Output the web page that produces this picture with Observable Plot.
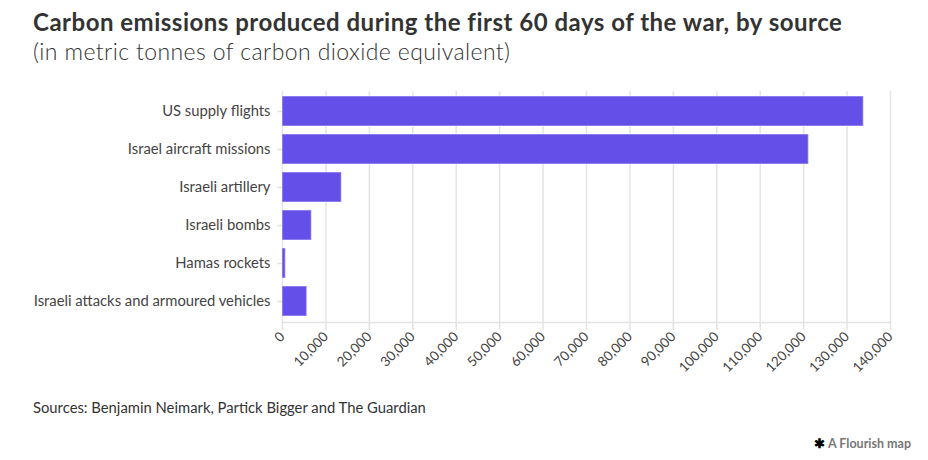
<!DOCTYPE html>
<html>
<head>
<meta charset="utf-8">
<script src="https://cdn.jsdelivr.net/npm/d3@7"></script>
<script src="https://cdn.jsdelivr.net/npm/@observablehq/plot@0.6"></script>
<style>
  html, body { margin: 0; padding: 0; background: #fff; }
  body { width: 928px; height: 460px; position: relative; overflow: hidden; font-family: Lato, "Noto Sans", sans-serif; }
  #title { position: absolute; left: 33px; top: 7px; font-size: 24px; font-weight: 700; color: #333; letter-spacing: 0.5px; white-space: nowrap; }
  #subtitle { position: absolute; left: 33px; top: 37px; font-size: 23px; font-weight: 300; color: #333; letter-spacing: 0.4px; white-space: nowrap; }
  #chart { position: absolute; left: 0; top: 80px; }
  #source { position: absolute; left: 33px; top: 398px; font-size: 14.8px; color: #333; white-space: nowrap; }
  #credit { position: absolute; right: 17px; top: 436px; font-size: 12.5px; font-weight: 700; color: #777; white-space: nowrap; }
  #credit span { color: #000; }
</style>
</head>
<body>
<div id="title">Carbon emissions produced during the first 60 days of the war, by source</div>
<div id="subtitle">(in metric tonnes of carbon dioxide equivalent)</div>
<div id="chart"></div>
<div id="source">Sources: Benjamin Neimark, Partick Bigger and The Guardian</div>
<div id="credit"><span>✱</span> A Flourish map</div>
<script>
const sources = ["US supply flights", "Israel aircraft missions", "Israeli artillery", "Israeli bombs", "Hamas rockets", "Israeli attacks and armoured vehicles"];
const emissions = [133850, 121200, 13650, 6750, 760, 5680];
const xTicks = [0, 10000, 20000, 30000, 40000, 50000, 60000, 70000, 80000, 90000, 100000, 110000, 120000, 130000, 140000];

const data = sources.map((s, i) => ({source: s, value: emissions[i]}));
const fmt = d3.format(",");

const plot = Plot.plot({
  width: 928,
  height: 310,
  marginTop: 11,
  marginBottom: 68,
  marginLeft: 282,
  marginRight: 38,
  style: {fontFamily: "Lato, 'Noto Sans', sans-serif", fontSize: "14px", color: "#333", background: "#fff"},
  x: {domain: [0, 140000], ticks: xTicks},
  y: {domain: sources, paddingInner: 0.2, paddingOuter: 0.1},
  marks: [
    Plot.gridX(xTicks, {stroke: "#e4e4e4", strokeOpacity: 1, strokeWidth: 1.5}),
    Plot.frame({anchor: "bottom", stroke: "#e4e4e4", strokeWidth: 1.5}),
    Plot.barX(data, {x: "value", y: "source", fill: "#6450e8", stroke: "#ffffff", strokeOpacity: 0.35, strokeWidth: 1.5, inset: 0}),
    Plot.axisX(xTicks, {tickSize: 8, stroke: "#e4e4e4", strokeWidth: 1.5, tickRotate: -45, tickFormat: fmt, fontSize: 13.5, fill: "#444", tickPadding: 4, label: null, textAnchor: "end"}),
    Plot.axisY({tickSize: 5, tickPadding: 7, stroke: "#e4e4e4", strokeWidth: 1.5, fill: "#444", fontSize: 14.8, label: null})
  ]
});
document.getElementById("chart").appendChild(plot);
</script>
</body>
</html>
